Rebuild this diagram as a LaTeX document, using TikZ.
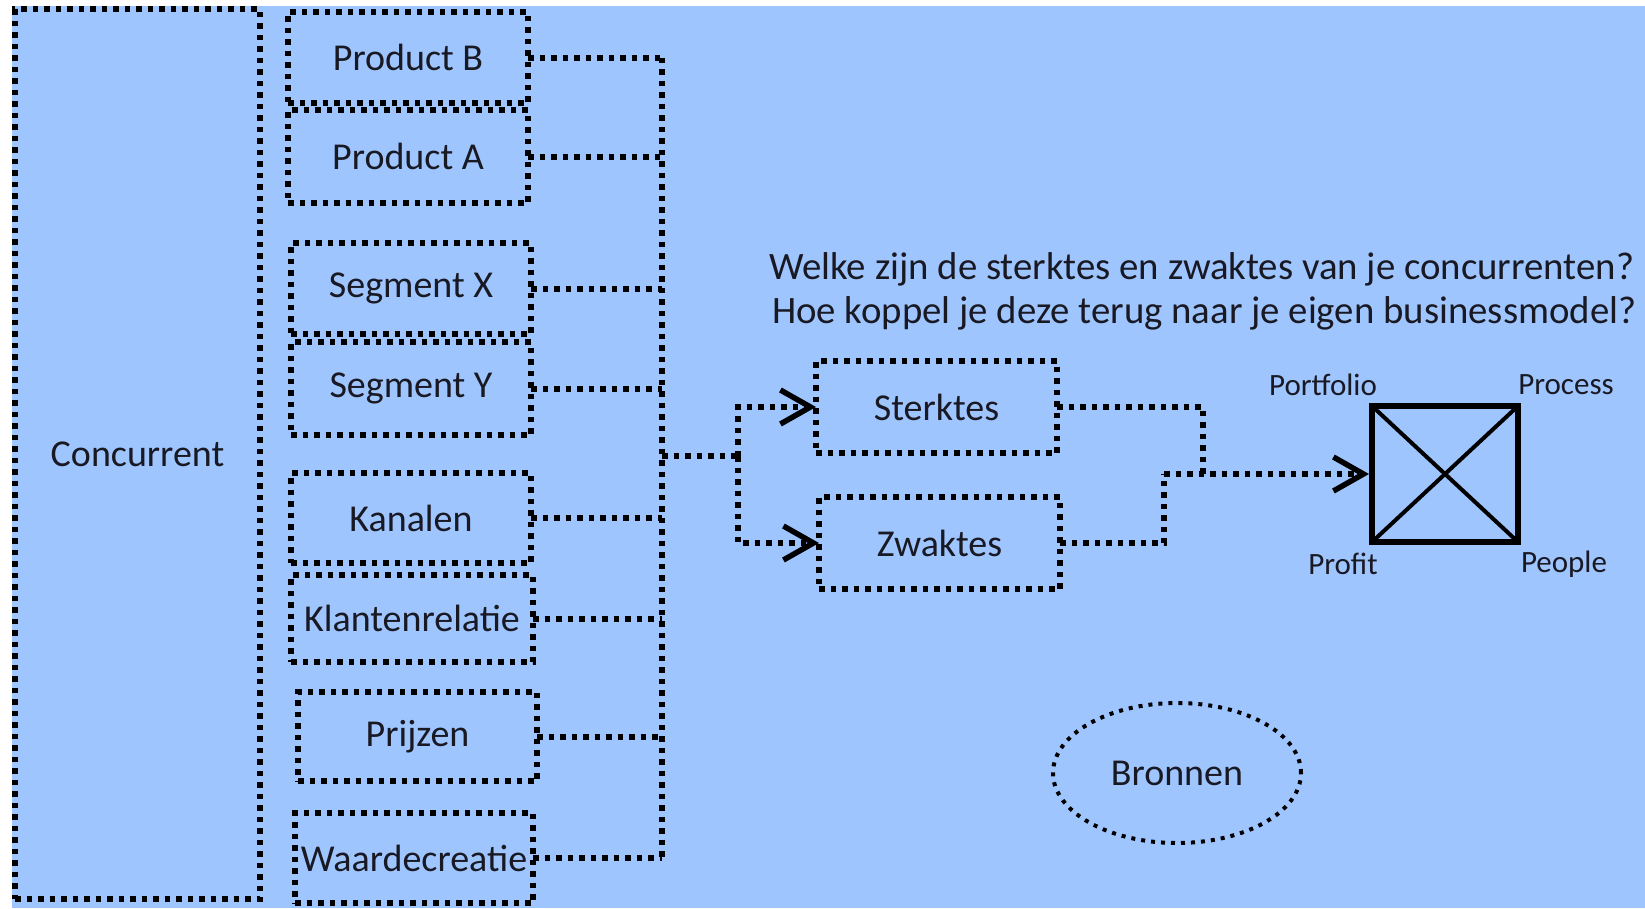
\documentclass[tikz,border=0pt]{standalone}
\usepackage{fontspec}
\setmainfont{Carlito}
\usetikzlibrary{arrows.meta,shapes.geometric}
\definecolor{bgblue}{RGB}{159,197,255}
\definecolor{ink}{RGB}{25,25,35}
\tikzset{
  dotline/.style={line width=6pt, dash pattern=on 5.5pt off 6pt},
  box/.style={draw, dotline, inner sep=0pt, outer sep=0pt, font=\fontsize{38}{46}\selectfont, text=ink},
  conn/.style={dotline},
  lbl/.style={font=\fontsize{31}{36}\selectfont, text=ink, inner sep=0pt},
  qtext/.style={font=\fontsize{38.8}{46}\selectfont, text=ink, inner sep=0pt, anchor=base west},
  chev/.tip={Straight Barb[length=30pt,width=34pt,line width=5.5pt]},
}
\begin{document}
\begin{tikzpicture}[x=1pt,y=-1pt]
\useasboundingbox (0,0) rectangle (1645,908);
\fill[white] (0,0) rectangle (1645,908);
\fill[bgblue] (12,6) rectangle (1645,908);

% left column
\node[box, minimum width=245pt, minimum height=890pt] (conc) at (137.5,454) {Concurrent};
\node[box, minimum width=240pt, minimum height=91pt] (pb) at (408,57.5) {Product B};
\node[box, minimum width=240pt, minimum height=93pt] (pa) at (408,156.5) {\raisebox{-2pt}{Product A}};
\node[box, minimum width=240pt, minimum height=91pt] (sx) at (411,288.5) {\raisebox{-4pt}{Segment X}};
\node[box, minimum width=240pt, minimum height=93pt] (sy) at (411,388.5) {\raisebox{-4pt}{Segment Y}};
\node[box, minimum width=240pt, minimum height=90pt] (kan) at (411,518) {Kanalen};
\node[box, minimum width=242pt, minimum height=87pt] (kl) at (412,618.5) {Klantenrelatie};
\node[box, minimum width=239pt, minimum height=89pt] (pr) at (417.5,736.5) {\raisebox{-3pt}{Prijzen}};
\node[box, minimum width=238pt, minimum height=90pt] (wa) at (414,858) {Waardecreatie};

% bus
\coordinate (bt) at (662,57.5);
\coordinate (bb) at (662,858);
\draw[conn] (bt) -- (bb);
\foreach \n in {pb,pa,sx,sy,kan,kl,pr,wa}{
  \draw[conn] (\n.east) -- (\n.east -| bt);
}

% strengths / weaknesses
\node[box, minimum width=241pt, minimum height=92pt] (st) at (936.5,407) {Sterktes};
\node[box, minimum width=241pt, minimum height=92pt] (zw) at (939.5,543) {Zwaktes};

\coordinate (j) at (662,456);
\coordinate (jx) at (738,456);
\draw[conn] (j) -- (jx);
\draw[conn,-chev] (jx) |- (st.west);
\draw[conn,-chev] (jx) |- (zw.west);

% square
\node[draw, line width=6pt, minimum width=146pt, minimum height=136pt, inner sep=0pt, outer sep=0pt] (sq) at (1445,474) {};
\draw[line width=4pt] (sq.north west) -- (sq.south east);
\draw[line width=4pt] (sq.north east) -- (sq.south west);

\coordinate (m1) at (1203,474);
\coordinate (m2) at (1164,474);
\draw[conn] (st.east) -| (m1);
\draw[conn] (zw.east) -| (m2);
\draw[conn,-chev] (m2) -- ([xshift=-3pt]sq.west);

\node[lbl] (pf) at (1323,385) {Portfolio};
\node[lbl] (pc) at (1566,385) {Process};
\node[lbl] (pt) at (1343,564) {Profit};
\node[lbl] (pe) at (1564,564) {People};

% question text
\node[qtext] (q1) at (769,279) {Welke zijn de sterktes en zwaktes van je concurrenten?};
\node[qtext] (q2) at (772,323) {Hoe koppel je deze terug naar je eigen businessmodel?};

% sources
\node[draw, ellipse, line width=4pt, dash pattern=on 4pt off 6pt, minimum width=248pt, minimum height=140pt, inner sep=0pt, font=\fontsize{38}{46}\selectfont, text=ink] (br) at (1177,773) {Bronnen};
\end{tikzpicture}
\end{document}
